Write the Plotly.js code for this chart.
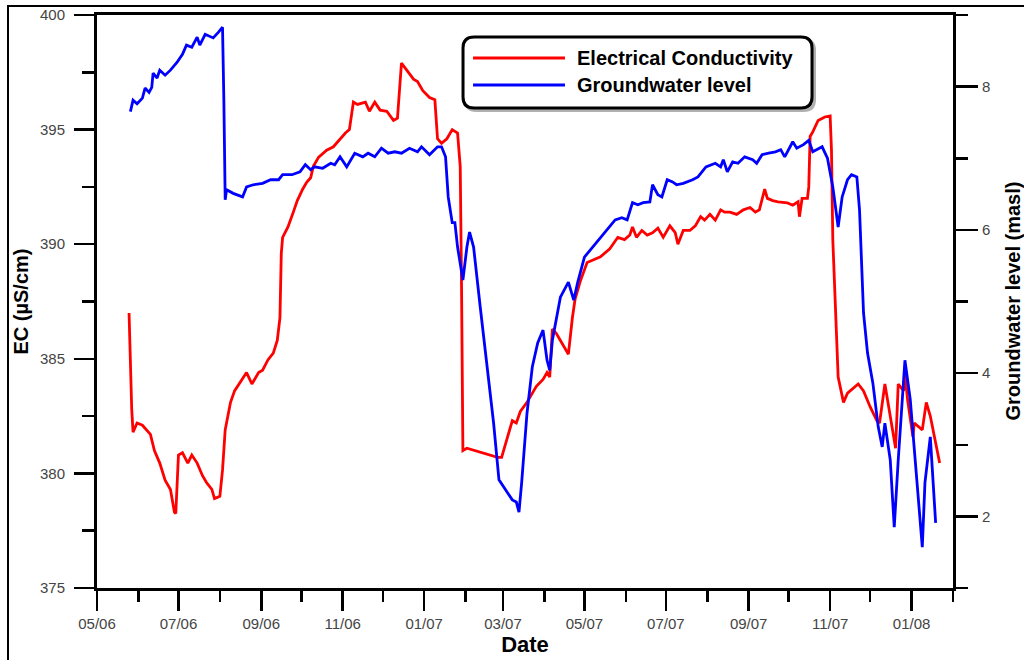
<!DOCTYPE html>
<html>
<head>
<meta charset="utf-8">
<script src="https://cdn.plot.ly/plotly-3.0.1.min.js"></script>
<style>
html,body{margin:0;padding:0;background:#fff;}
#chart{width:1024px;height:660px;}
</style>
</head>
<body>
<div id="chart"></div>
<script>
const ecDates = ['2006-05-25','2006-05-26','2006-05-27','2006-05-28','2006-05-31','2006-06-04','2006-06-10','2006-06-13','2006-06-17','2006-06-21','2006-06-25','2006-06-28','2006-06-29','2006-07-01','2006-07-04','2006-07-08','2006-07-11','2006-07-15','2006-07-19','2006-07-22','2006-07-26','2006-07-28','2006-08-01','2006-08-03','2006-08-05','2006-08-07','2006-08-09','2006-08-12','2006-08-18','2006-08-21','2006-08-25','2006-08-30','2006-09-02','2006-09-06','2006-09-10','2006-09-13','2006-09-15','2006-09-16','2006-09-17','2006-09-21','2006-09-25','2006-09-28','2006-10-02','2006-10-05','2006-10-08','2006-10-10','2006-10-14','2006-10-20','2006-10-25','2006-10-30','2006-11-03','2006-11-06','2006-11-09','2006-11-12','2006-11-18','2006-11-21','2006-11-25','2006-11-29','2006-12-04','2006-12-09','2006-12-12','2006-12-15','2006-12-19','2006-12-24','2006-12-27','2006-12-31','2007-01-05','2007-01-09','2007-01-11','2007-01-14','2007-01-18','2007-01-22','2007-01-26','2007-01-28','2007-01-29','2007-01-30','2007-02-02','2007-02-25','2007-02-28','2007-03-04','2007-03-08','2007-03-11','2007-03-14','2007-03-19','2007-03-23','2007-03-26','2007-03-31','2007-04-03','2007-04-05','2007-04-07','2007-04-10','2007-04-15','2007-04-19','2007-04-22','2007-04-24','2007-04-28','2007-05-03','2007-05-07','2007-05-13','2007-05-20','2007-05-26','2007-05-31','2007-06-04','2007-06-06','2007-06-09','2007-06-13','2007-06-17','2007-06-21','2007-06-25','2007-06-29','2007-07-04','2007-07-08','2007-07-10','2007-07-14','2007-07-19','2007-07-23','2007-07-27','2007-07-30','2007-08-03','2007-08-07','2007-08-11','2007-08-14','2007-08-18','2007-08-23','2007-08-28','2007-09-02','2007-09-06','2007-09-09','2007-09-13','2007-09-15','2007-09-19','2007-09-23','2007-09-30','2007-10-04','2007-10-08','2007-10-09','2007-10-11','2007-10-15','2007-10-16','2007-10-17','2007-10-19','2007-10-23','2007-10-28','2007-11-01','2007-11-02','2007-11-03','2007-11-05','2007-11-07','2007-11-11','2007-11-14','2007-11-22','2007-11-26','2007-12-01','2007-12-06','2007-12-08','2007-12-12','2007-12-14','2007-12-20','2007-12-22','2007-12-26','2007-12-27','2007-12-29','2008-01-02','2008-01-03','2008-01-09','2008-01-12','2008-01-15','2008-01-19','2008-01-22'];
const ecValues = [387.0,384.2,382.8,381.8,382.2,382.1,381.7,381.0,380.45,379.7,379.3,378.3,378.25,380.8,380.9,380.45,380.8,380.45,379.9,379.6,379.3,378.9,379.0,380.15,381.9,382.5,383.1,383.6,384.1,384.4,383.9,384.4,384.5,384.95,385.25,385.8,386.8,389.6,390.3,390.75,391.4,391.9,392.4,392.7,392.9,393.4,393.8,394.1,394.25,394.6,394.85,395.0,396.2,396.1,396.2,395.8,396.2,395.85,395.8,395.4,395.5,397.9,397.6,397.2,397.1,396.7,396.4,396.3,394.6,394.4,394.6,395.0,394.85,393.4,388.0,381.0,381.1,380.7,380.7,381.45,382.3,382.2,382.7,383.1,383.5,383.8,384.1,384.4,384.2,386.3,386.1,385.6,385.2,386.8,387.6,388.4,389.2,389.3,389.45,389.8,390.3,390.2,390.4,390.75,390.3,390.6,390.4,390.5,390.7,390.3,390.8,390.5,390.0,390.6,390.6,390.8,391.2,391.05,391.3,391.05,391.5,391.4,391.4,391.3,391.5,391.6,391.4,391.5,392.4,392.0,391.9,391.85,391.8,391.7,391.85,391.2,392.0,392.0,392.5,394.7,394.9,395.4,395.55,395.6,394.1,390.2,386.8,384.2,383.1,383.5,383.9,383.6,382.9,382.3,382.2,383.9,383.2,381.1,383.9,383.6,384.4,383.2,381.6,382.2,381.9,383.1,382.5,381.3,380.45];

const gwDates = ['2006-05-26','2006-05-28','2006-05-31','2006-06-04','2006-06-06','2006-06-09','2006-06-11','2006-06-12','2006-06-15','2006-06-17','2006-06-21','2006-06-25','2006-06-30','2006-07-04','2006-07-07','2006-07-11','2006-07-15','2006-07-17','2006-07-21','2006-07-27','2006-07-31','2006-08-03','2006-08-04','2006-08-05','2006-08-06','2006-08-11','2006-08-18','2006-08-21','2006-08-26','2006-09-02','2006-09-08','2006-09-14','2006-09-17','2006-09-24','2006-09-30','2006-10-04','2006-10-08','2006-10-11','2006-10-17','2006-10-23','2006-10-26','2006-10-30','2006-11-04','2006-11-10','2006-11-16','2006-11-20','2006-11-25','2006-11-30','2006-12-05','2006-12-10','2006-12-15','2006-12-21','2006-12-27','2006-12-30','2007-01-05','2007-01-11','2007-01-14','2007-01-17','2007-01-19','2007-01-22','2007-01-24','2007-01-26','2007-01-30','2007-02-02','2007-02-04','2007-02-07','2007-02-12','2007-02-17','2007-02-22','2007-02-26','2007-03-04','2007-03-08','2007-03-11','2007-03-13','2007-03-15','2007-03-19','2007-03-23','2007-03-27','2007-03-31','2007-04-03','2007-04-05','2007-04-07','2007-04-13','2007-04-19','2007-04-23','2007-04-26','2007-05-01','2007-05-07','2007-05-13','2007-05-18','2007-05-24','2007-05-29','2007-06-02','2007-06-06','2007-06-10','2007-06-14','2007-06-19','2007-06-21','2007-06-25','2007-06-28','2007-07-02','2007-07-06','2007-07-09','2007-07-14','2007-07-21','2007-07-25','2007-07-31','2007-08-07','2007-08-11','2007-08-13','2007-08-16','2007-08-20','2007-08-24','2007-08-29','2007-09-04','2007-09-07','2007-09-11','2007-09-16','2007-09-21','2007-09-25','2007-09-28','2007-10-04','2007-10-07','2007-10-12','2007-10-16','2007-10-19','2007-10-26','2007-10-30','2007-11-03','2007-11-07','2007-11-10','2007-11-14','2007-11-17','2007-11-21','2007-11-23','2007-11-26','2007-11-29','2007-12-03','2007-12-07','2007-12-10','2007-12-12','2007-12-16','2007-12-19','2007-12-22','2007-12-27','2007-12-31','2008-01-04','2008-01-09','2008-01-11','2008-01-15','2008-01-19'];
const gwValues = [7.65,7.81,7.76,7.84,7.98,7.92,7.99,8.19,8.12,8.23,8.16,8.23,8.34,8.45,8.58,8.55,8.69,8.58,8.73,8.68,8.76,8.83,7.81,6.42,6.56,6.51,6.46,6.60,6.63,6.65,6.70,6.70,6.77,6.77,6.81,6.91,6.84,6.88,6.86,6.93,6.91,7.02,6.88,7.07,7.02,7.07,7.02,7.14,7.07,7.09,7.07,7.14,7.09,7.16,7.05,7.16,7.16,7.02,6.46,6.10,6.10,5.76,5.30,5.76,5.97,5.76,4.92,4.09,3.30,2.51,2.34,2.23,2.20,2.06,2.47,3.44,4.09,4.42,4.60,4.18,4.04,4.46,5.06,5.27,5.02,5.27,5.62,5.76,5.89,6.00,6.14,6.17,6.14,6.38,6.35,6.38,6.39,6.63,6.49,6.46,6.70,6.67,6.63,6.65,6.70,6.74,6.88,6.93,6.88,6.98,6.81,6.95,6.93,7.02,6.98,6.93,7.05,7.07,7.09,7.12,7.02,7.23,7.14,7.19,7.25,7.09,7.16,7.00,6.60,6.04,6.46,6.70,6.77,6.74,6.28,4.84,4.28,3.86,3.25,2.97,3.30,2.79,1.85,2.79,4.18,3.63,2.69,1.57,2.47,3.11,1.91];

const seriesNames = ['Electrical Conductivity','Groundwater level'];
const seriesColors = ['#ff0000','#0000ff'];
const xTitle = 'Date';
const yTitle = 'EC (µS/cm)';
const y2Title = 'Groundwater level (masl)';

const FONT = 'Liberation Sans, Arial, sans-serif';

const traces = [
  {x: ecDates, y: ecValues, name: seriesNames[0], type: 'scatter', mode: 'lines',
   line: {color: seriesColors[0], width: 2.8}, yaxis: 'y'},
  {x: gwDates, y: gwValues, name: seriesNames[1], type: 'scatter', mode: 'lines',
   line: {color: seriesColors[1], width: 2.8}, yaxis: 'y2'}
];

const W = 856, H = 573; // plot area in px
function px(x){ return x / W; }
function py(y){ return y / H; }

// legend box geometry (in paper fractions)
const bx0 = 0.4276, bx1 = 0.8353, byT = 0.9616, byB = 0.8377;
const rx = px(11), ry = py(11);
function roundRect(x0,x1,yB,yT){
  return `M${x0+rx},${yT} L${x1-rx},${yT} Q${x1},${yT} ${x1},${yT-ry} L${x1},${yB+ry} Q${x1},${yB} ${x1-rx},${yB} L${x0+rx},${yB} Q${x0},${yB} ${x0},${yB+ry} L${x0},${yT-ry} Q${x0},${yT} ${x0+rx},${yT} Z`;
}
const sdx = px(2.5), sdy = py(2.5);

const layout = {
  width: 1024, height: 660,
  margin: {l: 97, r: 71, t: 15, b: 72, pad: 0},
  paper_bgcolor: '#ffffff', plot_bgcolor: '#ffffff',
  showlegend: false,
  font: {family: FONT, color: '#000'},
  xaxis: {
    type: 'date',
    range: ['2006-05-01', '2008-02-01'],
    tick0: '2006-05-01', dtick: 'M2', tickformat: '%m/%y',
    ticks: 'outside', ticklen: 20, tickwidth: 2.5, tickcolor: '#000',
    minor: {dtick: 'M1', tick0: '2006-05-01', ticks: 'outside', ticklen: 11, tickwidth: 2.5, tickcolor: '#000', showgrid: false},
    showline: true, linecolor: '#000', linewidth: 3, mirror: true,
    showgrid: false, zeroline: false,
    tickfont: {family: FONT, size: 15, color: '#444'},
    title: {text: xTitle, font: {family: FONT, size: 22, color: '#000', weight: 'bold'}, standoff: 4},
    automargin: false
  },
  yaxis: {
    range: [375, 400], tick0: 375, dtick: 5,
    ticks: 'outside', ticklen: 20, tickwidth: 2.5, tickcolor: '#000',
    minor: {dtick: 2.5, tick0: 375, ticks: 'outside', ticklen: 12, tickwidth: 2.5, tickcolor: '#000', showgrid: false},
    showline: true, linecolor: '#000', linewidth: 3,
    showgrid: false, zeroline: false,
    tickfont: {family: FONT, size: 15, color: '#444'},
    ticklabelstandoff: 6,
    title: {text: yTitle, font: {family: FONT, size: 20, color: '#000', weight: 'bold'}, standoff: 6},
    automargin: false
  },
  yaxis2: {
    overlaying: 'y', side: 'right',
    range: [1, 9], tick0: 0, dtick: 2,
    ticks: 'outside', ticklen: 22, tickwidth: 2.5, tickcolor: '#000',
    minor: {dtick: 1, tick0: 1, ticks: 'outside', ticklen: 12, tickwidth: 2.5, tickcolor: '#000', showgrid: false},
    showline: true, linecolor: '#000', linewidth: 3,
    showgrid: false, zeroline: false,
    tickfont: {family: FONT, size: 15, color: '#444'},
    ticklabelstandoff: 1,
    automargin: false
  },
  shapes: [
    // outer frame
    {type: 'rect', xref: 'paper', yref: 'paper', x0: px(8-97), x1: px(1040-97), y0: py(588-680), y1: py(588-6),
     line: {color: '#000', width: 2}, fillcolor: 'rgba(0,0,0,0)', layer: 'below'},
    // legend shadow
    {type: 'path', xref: 'paper', yref: 'paper', path: roundRect(bx0+sdx, bx1+sdx, byB-sdy, byT-sdy),
     line: {color: '#b0b0b0', width: 3}, fillcolor: 'rgba(0,0,0,0)'},
    // legend box
    {type: 'path', xref: 'paper', yref: 'paper', path: roundRect(bx0, bx1, byB, byT),
     line: {color: '#000', width: 3}, fillcolor: '#ffffff'},
    // legend samples
    {type: 'line', xref: 'paper', yref: 'paper', x0: 0.4393, x1: 0.5467, y0: 0.925, y1: 0.925,
     line: {color: seriesColors[0], width: 3}},
    {type: 'line', xref: 'paper', yref: 'paper', x0: 0.4393, x1: 0.5467, y0: 0.8778, y1: 0.8778,
     line: {color: seriesColors[1], width: 3}}
  ],
  annotations: [
    {xref: 'paper', yref: 'paper', x: 0.5584, y: 0.925, xanchor: 'left', yanchor: 'middle', showarrow: false,
     text: seriesNames[0], font: {family: FONT, size: 20, color: '#000', weight: 'bold'}},
    {xref: 'paper', yref: 'paper', x: 0.5584, y: 0.8778, xanchor: 'left', yanchor: 'middle', showarrow: false,
     text: seriesNames[1], font: {family: FONT, size: 20, color: '#000', weight: 'bold'}},
    // right axis title
    {xref: 'paper', yref: 'paper', x: px(1012 - 97), y: 0.5, xanchor: 'center', yanchor: 'middle',
     showarrow: false, textangle: -90,
     text: y2Title, font: {family: FONT, size: 20, color: '#000', weight: 'bold'}}
  ]
};

Plotly.newPlot('chart', traces, layout, {displayModeBar: false, staticPlot: true});
</script>
</body>
</html>
